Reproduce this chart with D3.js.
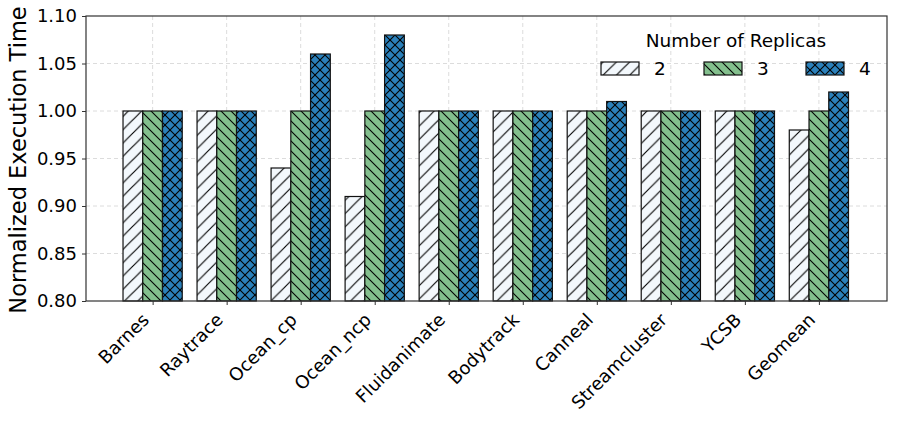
<!DOCTYPE html>
<html>
<head>
<meta charset="utf-8">
<script src="https://cdn.jsdelivr.net/npm/d3@7"></script>
<style>
    body { margin: 0; background: #fff; }
    text { font-family: "DejaVu Sans", sans-serif; fill: #000; }
</style>
</head>
<body>
<svg id="chart" width="897" height="426"></svg>
<script>
// Normalized execution time per benchmark, by number of replicas
const categories = ["Barnes", "Raytrace", "Ocean_cp", "Ocean_ncp", "Fluidanimate",
    "Bodytrack", "Canneal", "Streamcluster", "YCSB", "Geomean"];
const replicas = ["2", "3", "4"];
const values2 = [1.00, 1.00, 0.94, 0.91, 1.00, 1.00, 1.00, 1.00, 1.00, 0.98];
const values3 = [1.00, 1.00, 1.00, 1.00, 1.00, 1.00, 1.00, 1.00, 1.00, 1.00];
const values4 = [1.00, 1.00, 1.06, 1.08, 1.00, 1.00, 1.01, 1.00, 1.00, 1.02];
const yTicks = [0.80, 0.85, 0.90, 0.95, 1.00, 1.05, 1.10];

const series = [values2, values3, values4];
const fills = ["#f3f8fc", "#83bf8d", "#2b80ba"];
const hatchIds = ["h-fwd", "h-back", "h-cross"];

const svg = d3.select("#chart");
const margin = { left: 86, right: 10, top: 16, bottom: 125 };
const width = 897, height = 426;
const plotW = width - margin.left - margin.right;
const plotH = height - margin.top - margin.bottom;

// x in category units, like a bar plot with index positions
const x = d3.scaleLinear().domain([-0.9, 9.92]).range([margin.left, margin.left + plotW]);
const y = d3.scaleLinear().domain([0.80, 1.10]).range([margin.top + plotH, margin.top]);
const barW = 0.8 / 3;

// hatch patterns
const defs = svg.append("defs");
function addHatch(id, size, paths) {
    const p = defs.append("pattern")
        .attr("id", id)
        .attr("patternUnits", "userSpaceOnUse")
        .attr("width", size).attr("height", size);
    paths.forEach(d => p.append("path").attr("d", d)
        .attr("stroke", "#000").attr("stroke-width", 1.1).attr("fill", "none"));
}
const s1 = 13.3, s2 = 10, s3 = 10;
addHatch("h-fwd", s1, [`M0,${s1} L${s1},0`, `M${-s1},${s1} L${s1},${-s1}`, `M0,${2 * s1} L${2 * s1},0`]);
addHatch("h-back", s2, [`M0,0 L${s2},${s2}`, `M${-s2},0 L${s2},${2 * s2}`, `M0,${-s2} L${2 * s2},${s2}`]);
addHatch("h-cross", s3, [`M0,0 L${s3},${s3}`, `M0,${s3} L${s3},0`]);

// grid
const grid = svg.append("g");
grid.selectAll(".gy").data(yTicks.slice(1, -1)).join("line")
    .attr("x1", margin.left).attr("x2", margin.left + plotW)
    .attr("y1", d => y(d)).attr("y2", d => y(d))
    .attr("stroke", "#dcdcdc").attr("stroke-dasharray", "4,3");
grid.selectAll(".gx").data(categories).join("line")
    .attr("x1", (d, i) => x(i)).attr("x2", (d, i) => x(i))
    .attr("y1", margin.top).attr("y2", margin.top + plotH)
    .attr("stroke", "#dcdcdc").attr("stroke-dasharray", "4,3");

// bars
series.forEach((vals, s) => {
    const g = svg.append("g");
    const xs = i => x(i + (s - 1) * barW - barW / 2);
    const w = x(barW) - x(0);
    g.selectAll("rect.f").data(vals).join("rect")
        .attr("x", (d, i) => xs(i)).attr("width", w)
        .attr("y", d => y(d)).attr("height", d => y(0.80) - y(d))
        .attr("fill", fills[s]);
    g.selectAll("rect.h").data(vals).join("rect")
        .attr("x", (d, i) => xs(i)).attr("width", w)
        .attr("y", d => y(d)).attr("height", d => y(0.80) - y(d))
        .attr("fill", `url(#${hatchIds[s]})`)
        .attr("stroke", "#111").attr("stroke-width", 1.2);
});

// frame
svg.append("rect")
    .attr("x", margin.left).attr("y", margin.top)
    .attr("width", plotW).attr("height", plotH)
    .attr("fill", "none").attr("stroke", "#333").attr("stroke-width", 1.2);

// axes
const yAxis = svg.append("g")
    .attr("transform", `translate(${margin.left},0)`)
    .call(d3.axisLeft(y).tickValues(yTicks).tickFormat(d3.format(".2f")).tickSize(4).tickPadding(5));
yAxis.select(".domain").remove();
yAxis.selectAll("text").style("font-size", "18px");
yAxis.selectAll("line").attr("stroke", "#333");

const xAxis = svg.append("g")
    .attr("transform", `translate(0,${margin.top + plotH})`)
    .call(d3.axisBottom(x).tickValues(d3.range(categories.length))
        .tickFormat(i => categories[i]).tickSize(4));
xAxis.select(".domain").remove();
xAxis.selectAll("line").attr("stroke", "#333");
xAxis.selectAll("text")
    .style("font-size", "18px")
    .attr("text-anchor", "end")
    .attr("y", 0).attr("dy", "0")
    .attr("transform", "translate(-3,20) rotate(-45)");

// y label
svg.append("text")
    .attr("transform", `translate(26,160) rotate(-90)`)
    .attr("text-anchor", "middle")
    .style("font-size", "22.5px")
    .text("Normalized Execution Time");

// legend
const leg = svg.append("g");
leg.append("text").attr("x", 736).attr("y", 47)
    .attr("text-anchor", "middle").style("font-size", "18.5px")
    .text("Number of Replicas");
const legX = [601, 704, 806];
replicas.forEach((r, s) => {
    leg.append("rect").attr("x", legX[s]).attr("y", 62).attr("width", 38).attr("height", 13)
        .attr("fill", fills[s]);
    leg.append("rect").attr("x", legX[s]).attr("y", 62).attr("width", 38).attr("height", 13)
        .attr("fill", `url(#${hatchIds[s]})`).attr("stroke", "#111").attr("stroke-width", 1.2);
    leg.append("text").attr("x", legX[s] + 53).attr("y", 75)
        .style("font-size", "18.5px").text(r);
});
</script>
</body>
</html>
